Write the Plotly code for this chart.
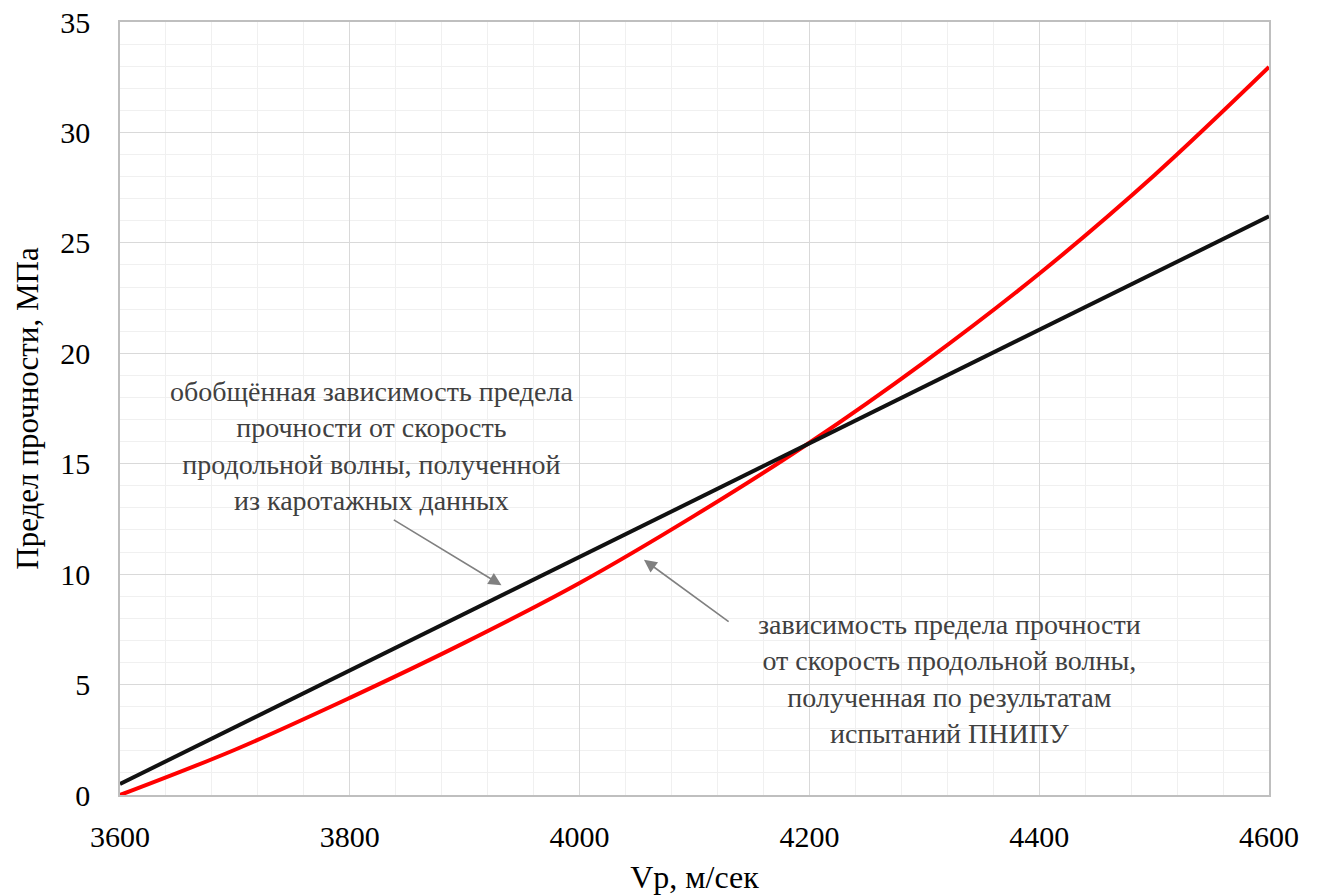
import plotly.graph_objects as go

vp_red = [3600, 3700, 3800, 3900, 4000, 4100, 4200, 4300, 4400, 4500, 4600]
sigma_red = [0.0, 2.05, 4.4, 6.9, 9.6, 12.65, 15.95, 19.6, 23.6, 28.05, 32.96]

vp_black = [3600, 4600]
sigma_black = [0.5, 26.2]

x_ticks = [3600, 3800, 4000, 4200, 4400, 4600]
y_ticks = [0, 5, 10, 15, 20, 25, 30, 35]

label_black = "обобщённая зависимость предела<br>прочности от скорость<br>продольной волны, полученной<br>из каротажных данных"
label_red = "зависимость предела прочности<br>от скорость продольной волны,<br>полученная по результатам<br>испытаний ПНИПУ"

font_family = "Liberation Serif, 'Times New Roman', Tinos, 'DejaVu Serif', serif"

fig = go.Figure()
fig.add_trace(go.Scatter(x=vp_red, y=sigma_red, mode="lines",
                         line=dict(color="#ff0000", width=4, shape="spline", smoothing=1.0),
                         showlegend=False))
fig.add_trace(go.Scatter(x=vp_black, y=sigma_black, mode="lines",
                         line=dict(color="#111111", width=4),
                         showlegend=False))

# arrows
fig.add_annotation(x=3932, y=9.5, xref="x", yref="y", text="",
                   showarrow=True, ax=3837, ay=12.5, axref="x", ayref="y",
                   arrowhead=2, arrowsize=1.6, arrowwidth=1.6, arrowcolor="#808080")
fig.add_annotation(x=4056, y=10.65, xref="x", yref="y", text="",
                   showarrow=True, ax=4131, ay=7.8, axref="x", ayref="y",
                   arrowhead=2, arrowsize=1.6, arrowwidth=1.6, arrowcolor="#808080")

# text labels
fig.add_annotation(x=3819, y=15.8, xref="x", yref="y", text=label_black,
                   showarrow=False, xanchor="center", yanchor="middle",
                   font=dict(family=font_family, size=28, color="#404040"))
fig.add_annotation(x=4322, y=5.25, xref="x", yref="y", text=label_red,
                   showarrow=False, xanchor="center", yanchor="middle",
                   font=dict(family=font_family, size=28, color="#404040"))

fig.update_layout(
    width=1319, height=895,
    margin=dict(l=120, r=50, t=22, b=100),
    paper_bgcolor="white", plot_bgcolor="white",
    font=dict(family=font_family, size=30, color="#000000"),
    showlegend=False,
)
fig.update_xaxes(
    range=[3600, 4600], tickvals=x_ticks, ticktext=[str(v) for v in x_ticks],
    showgrid=True, gridcolor="#d9d9d9", gridwidth=1.3,
    minor=dict(dtick=40, showgrid=True, gridcolor="#f0f0f0", gridwidth=1.3),
    showline=True, linecolor="#bfbfbf", linewidth=1.5, mirror=True,
    zeroline=False, ticks="", ticklabelstandoff=14, automargin=False,
    tickfont=dict(family=font_family, size=30),
    title=dict(text="Vp, м/сек", font=dict(family=font_family, size=32), standoff=14),
)
fig.update_yaxes(
    range=[0, 35], tickvals=y_ticks, ticktext=[str(v) for v in y_ticks],
    showgrid=True, gridcolor="#d9d9d9", gridwidth=1.3,
    minor=dict(dtick=1, showgrid=True, gridcolor="#f0f0f0", gridwidth=1.3),
    showline=True, linecolor="#bfbfbf", linewidth=1.5, mirror=True,
    zeroline=False, ticks="", ticklabelstandoff=22, automargin=False,
    tickfont=dict(family=font_family, size=30),
    title=dict(text="Предел прочности, МПа", font=dict(family=font_family, size=31), standoff=12),
)

fig.write_html("out.html")
